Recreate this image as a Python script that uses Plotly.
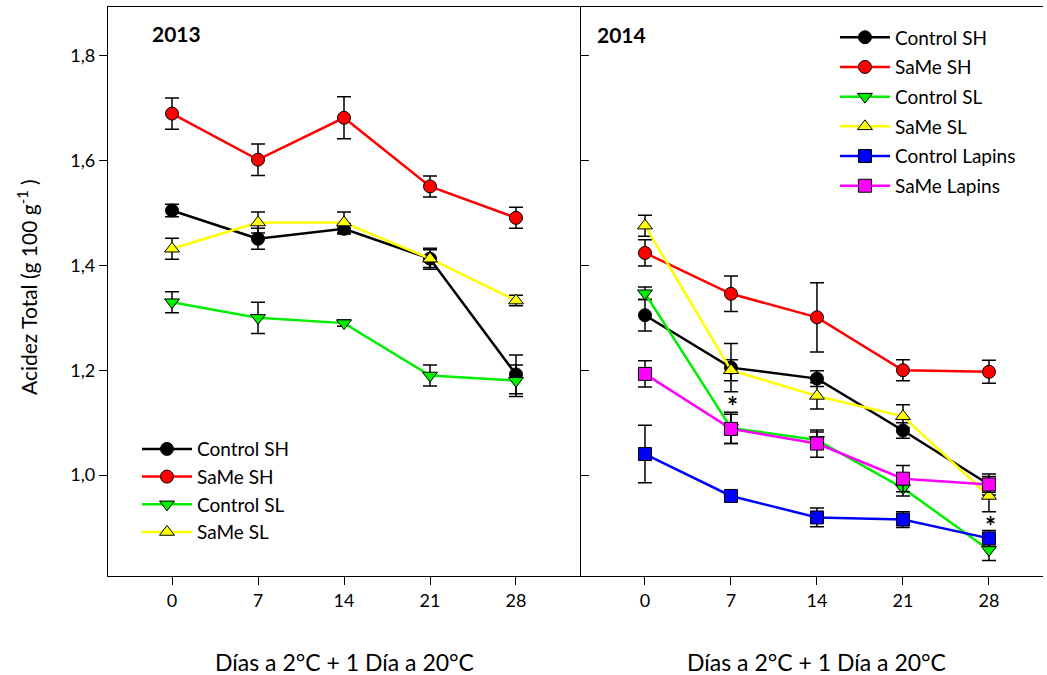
import plotly.graph_objects as go

days = [0, 7, 14, 21, 28]

# 2013
y13_ctrl_sh = [1.505, 1.451, 1.470, 1.413, 1.192]
e13_ctrl_sh = [0.012, 0.020, 0.010, 0.020, 0.037]
y13_same_sh = [1.690, 1.602, 1.682, 1.551, 1.491]
e13_same_sh = [0.030, 0.030, 0.040, 0.020, 0.020]
y13_ctrl_sl = [1.330, 1.300, 1.290, 1.190, 1.180]
e13_ctrl_sl = [0.020, 0.030, 0.006, 0.020, 0.030]
y13_same_sl = [1.432, 1.482, 1.482, 1.413, 1.333]
e13_same_sl = [0.020, 0.020, 0.020, 0.017, 0.010]

# 2014
y14_ctrl_sh = [1.305, 1.205, 1.184, 1.085, 0.982]
e14_ctrl_sh = [0.030, 0.046, 0.015, 0.015, 0.020]
y14_same_sh = [1.424, 1.346, 1.301, 1.200, 1.197]
e14_same_sh = [0.025, 0.034, 0.066, 0.020, 0.022]
y14_ctrl_sl = [1.347, 1.090, 1.067, 0.975, 0.857]
e14_ctrl_sl = [0.012, 0.030, 0.015, 0.015, 0.020]
y14_same_sl = [1.476, 1.200, 1.151, 1.112, 0.960]
e14_same_sl = [0.020, 0.020, 0.025, 0.022, 0.030]
y14_ctrl_lap = [1.040, 0.960, 0.919, 0.915, 0.879]
e14_ctrl_lap = [0.055, 0.010, 0.018, 0.015, 0.015]
y14_same_lap = [1.193, 1.088, 1.060, 0.993, 0.982]
e14_same_lap = [0.025, 0.028, 0.026, 0.025, 0.015]

star_x = [7, 28]
star_y = [1.14, 0.91]

names = ["Control SH", "SaMe SH", "Control SL", "SaMe SL", "Control Lapins", "SaMe Lapins"]
colors = ["#000000", "#ff0000", "#00ee00", "#ffff00", "#0000ff", "#ff00ff"]
symbols = ["circle", "circle", "triangle-down", "triangle-up", "square", "square"]

FONT = "Lato"

fig = go.Figure()

def add(y, e, i, xa, ya, leg):
    fig.add_trace(go.Scatter(
        x=days, y=y, mode="lines+markers", name=names[i],
        line=dict(color=colors[i], width=2.5),
        marker=dict(symbol=symbols[i], size=13, color=colors[i],
                    line=dict(color="black", width=1)),
        error_y=dict(type="data", array=e, color="black", thickness=1.5, width=7),
        xaxis=xa, yaxis=ya, legend=leg, legendgroup=leg + str(i),
    ))

for i, (y, e) in enumerate([(y13_ctrl_sh, e13_ctrl_sh), (y13_same_sh, e13_same_sh),
                            (y13_ctrl_sl, e13_ctrl_sl), (y13_same_sl, e13_same_sl)]):
    add(y, e, i, "x", "y", "legend")

for i, (y, e) in enumerate([(y14_ctrl_sh, e14_ctrl_sh), (y14_same_sh, e14_same_sh),
                            (y14_ctrl_sl, e14_ctrl_sl), (y14_same_sl, e14_same_sl),
                            (y14_ctrl_lap, e14_ctrl_lap), (y14_same_lap, e14_same_lap)]):
    add(y, e, i, "x2", "y2", "legend2")

split = (580 - 108) / 935
yr = [0.8072, 1.8935]

axis_common = dict(showgrid=False, zeroline=False, showline=True, linecolor="black",
                   linewidth=1.2, tickfont=dict(family=FONT, size=18, color="black"))

annotations = [
    dict(text="<b>2013</b>", xref="paper", yref="paper", x=(150 - 108) / 935, y=(576 - 33) / 569,
         xanchor="left", yanchor="middle", showarrow=False, font=dict(family=FONT, size=21)),
    dict(text="<b>2014</b>", xref="paper", yref="paper", x=(595 - 108) / 935, y=(576 - 35) / 569,
         xanchor="left", yanchor="middle", showarrow=False, font=dict(family=FONT, size=21)),
    dict(text="Días a 2°C + 1 Día a 20°C", xref="x", yref="paper", x=14, y=(576 - 662) / 569,
         xanchor="center", yanchor="middle", showarrow=False, font=dict(family=FONT, size=23)),
    dict(text="Días a 2°C + 1 Día a 20°C", xref="x2", yref="paper", x=14, y=(576 - 662) / 569,
         xanchor="center", yanchor="middle", showarrow=False, font=dict(family=FONT, size=23)),
    dict(text="Acidez Total (g 100 g<sup>-1</sup> )", xref="paper", yref="paper",
         x=(27 - 108) / 935, y=(576 - 287) / 569, textangle=-90,
         xanchor="center", yanchor="middle", showarrow=False, font=dict(family=FONT, size=21)),
]
for sx, sy in zip(star_x, star_y):
    annotations.append(dict(text="<b>*</b>", xref="x2", yref="y2", x=sx, y=sy, xshift=2, yshift=-4,
                            xanchor="center", yanchor="middle", showarrow=False,
                            font=dict(family=FONT, size=26, color="black")))

fig.update_layout(
    width=1047, height=675,
    margin=dict(l=108, r=4, t=7, b=99),
    paper_bgcolor="white", plot_bgcolor="white",
    separators=",.",
    font=dict(family=FONT, color="black"),
    xaxis=dict(domain=[0, split], range=[-5.21, 33.21], tickvals=days,
               ticks="outside", ticklen=8, tickcolor="black", mirror=True, **axis_common),
    xaxis2=dict(domain=[split, 1], range=[-5.29, 32.40], tickvals=days,
                ticks="outside", ticklen=8, tickcolor="black", mirror=True, **axis_common),
    yaxis=dict(range=yr, tickvals=[1.0, 1.2, 1.4, 1.6, 1.8], tickformat=".1f",
               ticks="outside", ticklen=8, tickcolor="black", mirror="ticks",
               anchor="x", **axis_common),
    yaxis2=dict(range=yr, tickvals=[1.0, 1.2, 1.4, 1.6, 1.8], showticklabels=False,
                ticks="", anchor="x2", **{**axis_common, "showline": False}),
    legend=dict(x=0.031, y=0.2565, xanchor="left", yanchor="top", bgcolor="rgba(0,0,0,0)",
                font=dict(family=FONT, size=19, color="black"), itemwidth=50,
                tracegroupgap=0, traceorder="grouped"),
    legend2=dict(x=0.7775, y=0.980, xanchor="left", yanchor="top", bgcolor="rgba(0,0,0,0)",
                 font=dict(family=FONT, size=19, color="black"), itemwidth=50,
                 tracegroupgap=2, traceorder="grouped"),
    annotations=annotations,
)

fig.write_html("out.html")
